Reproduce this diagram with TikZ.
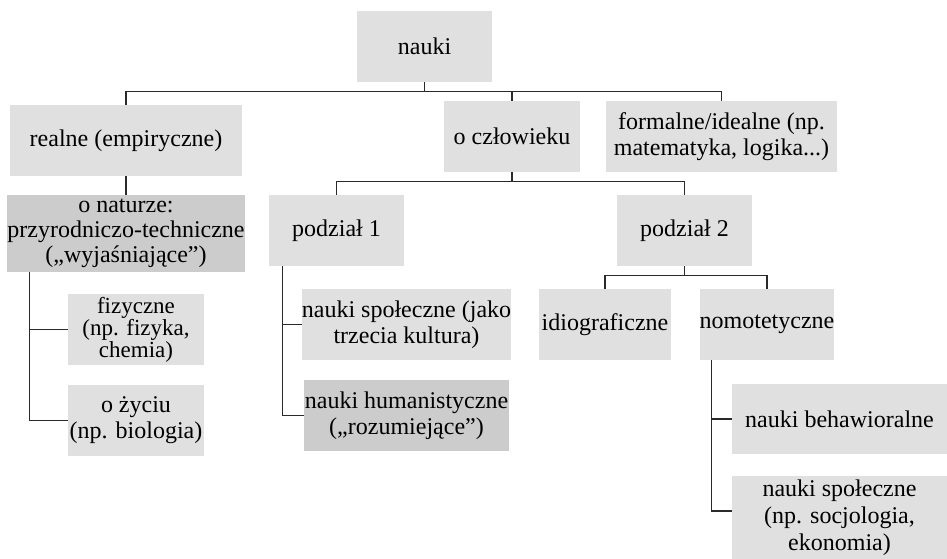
\documentclass[tikz,border=0pt]{standalone}
\usepackage{fontspec}
\setmainfont{Liberation Serif}
\usetikzlibrary{positioning,calc}

\definecolor{boxgray}{HTML}{E0E0E0}
\definecolor{boxdark}{HTML}{CCCCCC}
\definecolor{linegray}{HTML}{2A2A2A}

\tikzset{
  box/.style={rectangle, fill=boxgray, inner sep=0pt, align=center,
    font=\fontsize{24}{26}\selectfont},
  darkbox/.style={box, fill=boxdark},
  sz/.style 2 args={minimum width=#1, minimum height=#2},
  link/.style={draw=linegray, line width=1.3pt}
}

\begin{document}
\begin{tikzpicture}[x=1pt, y=-1pt]
\useasboundingbox (0,0) rectangle (947,558);

% top and first level
\node[box, sz={135}{71}] (nauki) at (424.5,46.5) {nauki};
\node[box, sz={232}{71}] (realne) at (126,140.5) {realne (empiryczne)};
\node[box, sz={136}{71}] (czlowiek) at (512,136.5) {o człowieku};
\node[box, sz={231}{71}] (formalne) at (721.5,136.5) {formalne/idealne (np.\\matematyka, logika...)};

% second level
\node[darkbox, sz={232}{77}, font=\fontsize{24}{25}\selectfont] (naturze) at (126,233.5)
  {o naturze:\\przyrodniczo-techniczne\\(„wyjaśniające”)};
\node[box, sz={135}{71}] (podzial1) at (336.5,230.5) {podział 1};
\node[box, sz={135}{71}] (podzial2) at (684.5,230.5) {podział 2};

% third level
\node[box, sz={136}{71}, font=\fontsize{23}{22}\selectfont] (fizyczne) at (136,329.5)
  {fizyczne\\(np. fizyka,\\chemia)};
\node[box, sz={136}{71}] (zycie) at (136,420.5) {o życiu\\(np. biologia)};
\node[box, sz={205}{71}] (spoleczne1) at (406.5,324.5) {nauki społeczne (jako\\trzecia kultura)};
\node[darkbox, sz={205}{71}] (humanist) at (406.5,415.5) {nauki humanistyczne\\(„rozumiejące”)};
\node[box, sz={132}{71}] (idio) at (605,324.5) {idiograficzne};
\node[box, sz={132}{71}] (nomo) at (767,324.5) {nomotetyczne};

% fourth level
\node[box, sz={215}{70}] (behaw) at (839.5,419) {nauki behawioralne};
\node[box, sz={215}{84}, font=\fontsize{24}{27}\selectfont] (spoleczne2) at (839.5,518)
  {nauki społeczne\\(np. socjologia,\\ekonomia)};

% tree links
\foreach \n in {realne,czlowiek,formalne}
  \draw[link] (nauki.south) -- ++(0,9) -| (\n.north);
\draw[link] (realne.south) -- (naturze.north);
\foreach \n in {podzial1,podzial2}
  \draw[link] (czlowiek.south) -- ++(0,9) -| (\n.north);
\foreach \n in {idio,nomo}
  \draw[link] (podzial2.south) -- ++(0,9) -| (\n.north);

% side links
\foreach \n in {fizyczne,zycie}
  \draw[link] ([xshift=22pt]naturze.south west) |- (\n.west);
\foreach \n in {spoleczne1,humanist}
  \draw[link] ([xshift=14pt]podzial1.south west) |- (\n.west);
\draw[link] ([xshift=12pt]nomo.south west) |- (behaw.west);
\draw[link] ([xshift=12pt]nomo.south west) |- ([yshift=7pt]spoleczne2.west);
\end{tikzpicture}
\end{document}
